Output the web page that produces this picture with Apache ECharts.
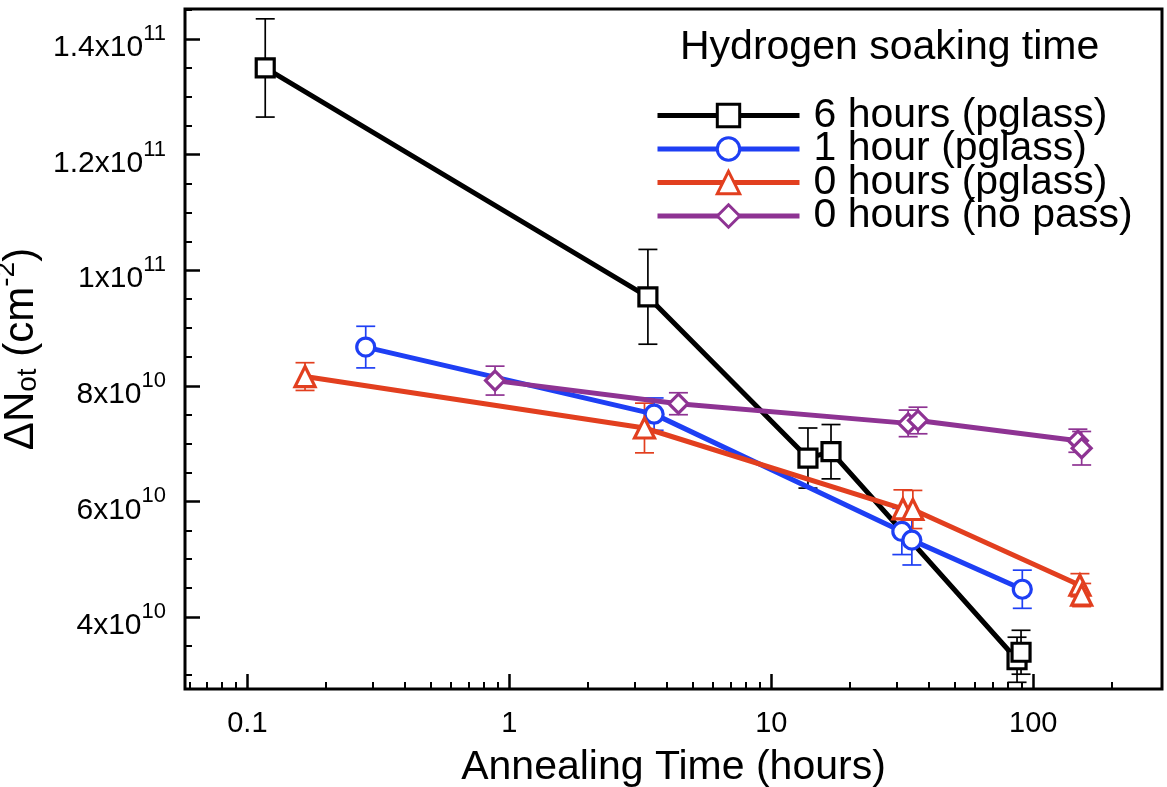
<!DOCTYPE html>
<html>
<head>
<meta charset="utf-8">
<script src="https://cdn.jsdelivr.net/npm/echarts@6/dist/echarts.min.js"></script>
<style>html,body{margin:0;padding:0;background:#fff}#chart{width:1167px;height:787px}</style>
</head>
<body>
<div id="chart"></div>
<script>
// ---- Axis ticks / labels ----
const xMajorTicks = [0.1, 1, 10, 100];
const xTickLabels = ['0.1', '1', '10', '100'];
const xMinorTicks = [0.06, 0.07, 0.08, 0.09, 0.2, 0.3, 0.4, 0.5, 0.6, 0.7, 0.8, 0.9,
  2, 3, 4, 5, 6, 7, 8, 9, 20, 30, 40, 50, 60, 70, 80, 90, 200];
const yMajorTicks = [4e10, 6e10, 8e10, 1e11, 1.2e11, 1.4e11];
const yTickMantissa = ['4', '6', '8', '1', '1.2', '1.4'];
const yTickExponent = ['10', '10', '10', '11', '11', '11'];
const yMinorTicks = [3e10, 3.5e10, 4.5e10, 5e10, 5.5e10, 6.5e10, 7e10, 7.5e10, 8.5e10, 9e10, 9.5e10,
  1.05e11, 1.1e11, 1.15e11, 1.25e11, 1.3e11, 1.35e11, 1.45e11];

// ---- Data ----
const seriesNames = ['6 hours (pglass)', '1 hour (pglass)', '0 hours (pglass)', '0 hours (no pass)'];
const h6X = [0.117, 3.38, 13.8, 16.9, 86.7, 89.8];
const h6Y = [1.350e11, 9.54e10, 6.75e10, 6.86e10, 3.26e10, 3.39e10];
const h6Err = [8.5e9, 8.2e9, 5.2e9, 4.7e9, 3.9e9, 3.8e9];

const h1X = [0.283, 3.57, 31.5, 34.4, 90.8];
const h1Y = [8.67e10, 7.51e10, 5.48e10, 5.33e10, 4.48e10];
const h1Err = [3.6e9, 2.8e9, 4.0e9, 4.3e9, 3.3e9];

const h0X = [0.166, 3.28, 31.8, 34.7, 150.7, 153];
const h0Y = [8.16e10, 7.27e10, 5.87e10, 5.86e10, 4.55e10, 4.38e10];
const h0Err = [2.4e9, 4.3e9, 3.3e9, 3.3e9, 2.0e9, 2.0e9];

const npX = [0.882, 4.42, 33.3, 36.3, 148, 153];
const npY = [8.09e10, 7.69e10, 7.35e10, 7.40e10, 7.05e10, 6.92e10];
const npErr = [2.5e9, 1.9e9, 2.3e9, 2.3e9, 2.0e9, 2.9e9];

const colors = ['#000000', '#1E3FF4', '#E23F1F', '#8E3393'];
const symbols = ['rect', 'circle', 'triangle', 'diamond'];
const symbolSizes = [18, 18, 20, 19];

const FONT = 'Liberation Sans, Arial, Helvetica, sans-serif';

function lineSeries(i, xs, ys) {
  return {
    type: 'line', name: seriesNames[i],
    data: xs.map((x, k) => [x, ys[k]]),
    xAxisIndex: 0, yAxisIndex: 0,
    symbol: symbols[i], symbolSize: symbolSizes[i], showSymbol: true,
    lineStyle: { color: colors[i], width: 5 },
    itemStyle: { color: '#ffffff', borderColor: colors[i], borderWidth: 3.2 },
    z: 3, animation: false
  };
}
function errSeries(i, xs, ys, errs) {
  const color = colors[i];
  return {
    type: 'custom', name: seriesNames[i] + ' err',
    xAxisIndex: 0, yAxisIndex: 0,
    data: xs.map((x, k) => [x, ys[k] - errs[k], ys[k] + errs[k]]),
    encode: { x: 0, y: [1, 2] },
    silent: true, z: 2, animation: false,
    renderItem: function (params, api) {
      const lo = api.coord([api.value(0), api.value(1)]);
      const hi = api.coord([api.value(0), api.value(2)]);
      const w = 9.5;
      const st = { stroke: color, lineWidth: 1.7, fill: null };
      return {
        type: 'group',
        children: [
          { type: 'line', shape: { x1: lo[0], y1: lo[1], x2: hi[0], y2: hi[1] }, style: st },
          { type: 'line', shape: { x1: lo[0] - w, y1: lo[1], x2: lo[0] + w, y2: lo[1] }, style: st },
          { type: 'line', shape: { x1: hi[0] - w, y1: hi[1], x2: hi[0] + w, y2: hi[1] }, style: st }
        ]
      };
    }
  };
}

function findIdx(arr, v) {
  for (let i = 0; i < arr.length; i++) if (Math.abs(arr[i] - v) <= Math.abs(arr[i]) * 1e-6) return i;
  return -1;
}

const xMin = 0.0578, xMax = 310;
const yMin = 2.754e10, yMax = 1.452e11;

const option = {
  animation: false,
  backgroundColor: '#ffffff',
  textStyle: { fontFamily: FONT },
  title: {
    text: 'Hydrogen soaking time', left: 680, top: 27, padding: 0,
    textStyle: { fontFamily: FONT, fontSize: 41, fontWeight: 'normal', color: '#000' }
  },
  legend: {
    data: seriesNames, orient: 'vertical', left: 655, top: 95, padding: 0,
    itemWidth: 142, itemHeight: 28, itemGap: -7.5,
    textStyle: { fontFamily: FONT, fontSize: 41, color: '#000', padding: [0, 0, 0, 9] },
    itemStyle: { borderWidth: 3 },
    lineStyle: { width: 5 }
  },
  grid: {
    left: 185, right: 5, top: 9, bottom: 98,
    containLabel: false, outerBoundsMode: 'none',
    show: true, borderColor: '#000', borderWidth: 3, backgroundColor: 'transparent'
  },
  xAxis: [
    {
      type: 'log', logBase: 10, min: xMin, max: xMax, position: 'bottom',
      name: 'Annealing Time (hours)', nameLocation: 'middle', nameGap: 56,
      nameTextStyle: { fontFamily: FONT, fontSize: 41, color: '#000', lineHeight: 46 },
      axisLine: { show: false },
      axisTick: { show: true, inside: true, length: 15, customValues: xMajorTicks, lineStyle: { color: '#000', width: 2.5 } },
      axisLabel: {
        show: true, customValues: xMajorTicks, margin: 20, color: '#000', fontSize: 29, fontFamily: FONT,
        formatter: function (v) { const i = findIdx(xMajorTicks, v); return i >= 0 ? xTickLabels[i] : ''; }
      },
      splitLine: { show: false }, minorTick: { show: false }
    },
    {
      type: 'log', logBase: 10, min: xMin, max: xMax, position: 'bottom',
      axisLine: { show: false },
      axisTick: { show: true, inside: true, length: 7, customValues: xMinorTicks, lineStyle: { color: '#000', width: 2 } },
      axisLabel: { show: false },
      splitLine: { show: false }
    }
  ],
  yAxis: [
    {
      type: 'value', min: yMin, max: yMax, position: 'left',
      name: '{d|ΔN}{s|ot}{n| (cm}{p|-2}{n|)}', nameLocation: 'middle', nameRotate: 90, nameGap: 122,
      nameTextStyle: {
        fontFamily: FONT, color: '#000',
        rich: {
          d: { fontFamily: FONT, fontSize: 42, lineHeight: 50, verticalAlign: 'bottom', color: '#000' },
          n: { fontFamily: FONT, fontSize: 42, lineHeight: 50, verticalAlign: 'bottom', color: '#000' },
          s: { fontFamily: FONT, fontSize: 28, lineHeight: 38, verticalAlign: 'bottom', color: '#000' },
          p: { fontFamily: FONT, fontSize: 28, lineHeight: 28, verticalAlign: 'top', color: '#000' }
        }
      },
      axisLine: { show: false },
      axisTick: { show: true, inside: true, length: 15, customValues: yMajorTicks, lineStyle: { color: '#000', width: 2.5 } },
      axisLabel: {
        show: true, customValues: yMajorTicks, margin: 19, padding: [8, 0, 0, 0],
        fontSize: 30, fontFamily: FONT, color: '#000',
        formatter: function (v) {
          const i = findIdx(yMajorTicks, v);
          return i >= 0 ? '{m|' + yTickMantissa[i] + 'x10}{e|' + yTickExponent[i] + '}' : '';
        },
        rich: {
          m: { fontFamily: FONT, fontSize: 30, lineHeight: 40, verticalAlign: 'bottom', color: '#000' },
          e: { fontFamily: FONT, fontSize: 22, lineHeight: 22, verticalAlign: 'top', color: '#000' }
        }
      },
      splitLine: { show: false }
    },
    {
      type: 'value', min: yMin, max: yMax, position: 'left',
      axisLine: { show: false },
      axisTick: { show: true, inside: true, length: 7, customValues: yMinorTicks, lineStyle: { color: '#000', width: 2 } },
      axisLabel: { show: false },
      splitLine: { show: false }
    }
  ],
  series: [
    errSeries(0, h6X, h6Y, h6Err),
    errSeries(1, h1X, h1Y, h1Err),
    errSeries(2, h0X, h0Y, h0Err),
    errSeries(3, npX, npY, npErr),
    lineSeries(0, h6X, h6Y),
    lineSeries(1, h1X, h1Y),
    lineSeries(2, h0X, h0Y),
    lineSeries(3, npX, npY)
  ]
};

const chart = echarts.init(document.getElementById('chart'), null, { renderer: 'canvas' });
chart.setOption(option);
</script>
</body>
</html>
